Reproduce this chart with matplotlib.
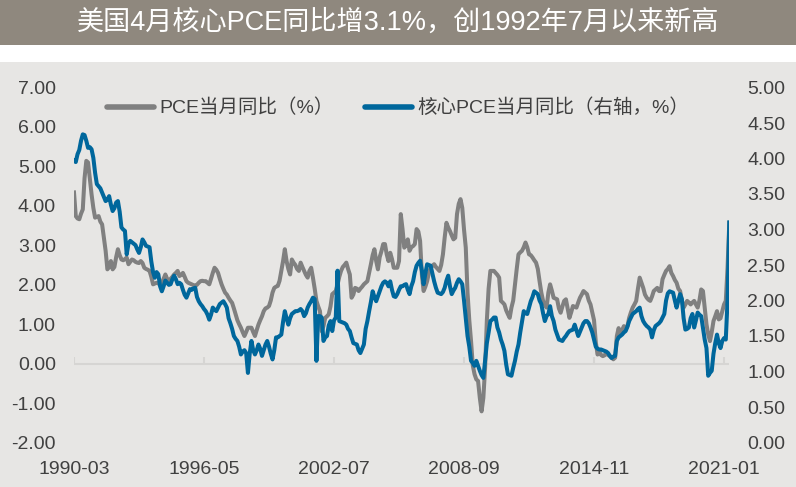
import matplotlib
matplotlib.use("Agg")
import matplotlib.pyplot as plt
from matplotlib.patches import Rectangle
import numpy as np

plt.rcParams['font.family'] = ['Liberation Sans', 'Noto Sans CJK SC', 'DejaVu Sans']

title = "美国4月核心PCE同比增3.1%，创1992年7月以来新高"
label_pce = "PCE当月同比（%）"
label_core = "核心PCE当月同比（右轴，%）"

# monthly, 1990-03 .. 2021-04
pce = [
    4.34, 3.74, 3.68, 3.66, 3.80, 3.91, 4.70, 5.14, 5.10, 4.70,
    4.29, 3.95, 3.70, 3.72, 3.74, 3.60, 3.53, 3.20, 2.86, 2.39, 2.45, 2.60,
    2.39, 2.45, 2.70, 2.90, 2.75, 2.64, 2.62, 2.65, 2.69, 2.52, 2.58, 2.64,
    2.62, 2.58, 2.56, 2.55, 2.60, 2.55, 2.43, 2.40, 2.38, 2.35, 2.20, 2.01,
    2.03, 2.05, 2.03, 2.01, 2.05, 2.15, 2.26, 2.15, 2.09, 2.15, 2.20, 2.26,
    2.30, 2.35, 2.22, 2.25, 2.30, 2.20, 2.09, 2.05, 2.03, 2.01, 1.99, 1.97,
    2.00, 2.05, 2.09, 2.10, 2.09, 2.09, 2.05, 2.01, 2.15, 2.30, 2.43, 2.38,
    2.30, 2.15, 2.01, 1.90, 1.80, 1.75, 1.67, 1.60, 1.54, 1.40, 1.25, 1.10,
    1.00, 0.91, 0.80, 0.70, 0.80, 0.91, 0.91, 0.91, 0.80, 0.70, 0.85, 0.99,
    1.10, 1.20, 1.33, 1.40, 1.42, 1.46, 1.60, 1.80, 1.92, 1.95, 1.97, 2.10,
    2.35, 2.60, 2.90, 2.60, 2.40, 2.26, 2.64, 2.56, 2.50, 2.40, 2.35, 2.56,
    2.45, 2.35, 2.25, 2.18, 2.35, 2.43, 2.18, 1.90, 1.59, 1.45, 1.33, 0.82,
    0.95, 1.16, 1.20, 1.25, 1.45, 1.76, 1.80, 1.84, 2.00, 2.20, 2.35, 2.45,
    2.50, 2.56, 2.40, 2.26, 1.67, 1.75, 1.92, 1.90, 1.84, 1.90, 1.95, 2.01,
    2.05, 2.09, 2.30, 2.52, 2.75, 2.90, 2.60, 2.39, 2.70, 2.85, 3.03, 3.03,
    2.77, 2.60, 2.81, 2.65, 2.43, 2.43, 2.43, 2.60, 3.79, 3.41, 2.94, 3.00,
    3.15, 2.86, 2.95, 2.98, 3.03, 3.41, 3.35, 3.11, 2.26, 1.84, 1.95, 2.09,
    2.30, 2.43, 2.48, 2.52, 2.45, 2.40, 2.35, 2.50, 2.77, 3.20, 3.57, 3.45,
    3.36, 3.25, 3.15, 3.19, 3.79, 4.05, 4.17, 3.95, 3.40, 2.94, 1.80, 1.10,
    0.57, -0.05, -0.27, -0.40, -0.44, -0.87, -1.21, -0.87, -0.11, 1.10, 1.90, 2.35,
    2.35, 2.35, 2.30, 2.25, 2.18, 1.59, 1.55, 1.50, 1.35, 1.25, 1.16, 1.42,
    1.60, 2.01, 2.40, 2.77, 2.82, 2.86, 2.95, 3.07, 2.95, 2.77, 2.75, 2.69,
    2.62, 2.56, 2.40, 2.09, 1.80, 1.59, 1.50, 1.42, 1.80, 2.01, 1.85, 1.67,
    1.65, 1.63, 1.40, 1.29, 1.45, 1.59, 1.63, 1.40, 1.16, 1.30, 1.46, 1.44,
    1.42, 1.55, 1.67, 1.75, 1.84, 1.80, 1.76, 1.60, 1.50, 1.30, 1.10, 0.55,
    0.23, 0.30, 0.22, 0.19, 0.21, 0.27, 0.22, 0.19, 0.15, 0.11, 0.15, 0.70,
    0.90, 0.74, 0.85, 0.95, 0.87, 0.95, 1.16, 1.30, 1.42, 1.50, 1.59, 1.90,
    2.18, 2.05, 1.92, 1.75, 1.67, 1.62, 1.59, 1.70, 1.84, 1.88, 1.92, 1.84,
    1.84, 2.14, 2.25, 2.35, 2.40, 2.47, 2.30, 2.22, 2.12, 2.05, 1.90, 1.84,
    1.60, 1.42, 1.50, 1.59, 1.55, 1.50, 1.55, 1.59, 1.50, 1.42, 1.60, 1.88,
    1.84, 1.42, 1.00, 0.74, 0.57, 0.80, 1.08, 1.20, 1.33, 1.12, 1.15, 1.33,
    1.50, 1.59, 2.43, 3.57,
]

core_pce = [
    3.97, 3.95, 4.06, 4.12, 4.25, 4.34, 4.33, 4.25, 4.15, 4.16,
    4.13, 4.01, 3.80, 3.64, 3.61, 3.58, 3.52, 3.46, 3.40, 3.42, 3.47, 3.35,
    3.26, 3.30, 3.38, 3.40, 3.25, 3.03, 3.00, 2.98, 2.65, 2.80, 2.84, 2.82,
    2.80, 2.78, 2.72, 2.67, 2.75, 2.86, 2.82, 2.77, 2.76, 2.75, 2.55, 2.40,
    2.32, 2.40, 2.37, 2.20, 2.13, 2.20, 2.28, 2.25, 2.22, 2.23, 2.30, 2.35,
    2.30, 2.23, 2.25, 2.23, 2.15, 2.08, 2.04, 2.10, 2.16, 2.15, 2.17, 2.18,
    2.05, 1.99, 1.95, 1.92, 1.88, 1.85, 1.80, 1.73, 1.80, 1.90, 1.87, 1.85,
    1.90, 1.95, 1.97, 1.99, 1.95, 1.90, 1.75, 1.68, 1.60, 1.50, 1.46, 1.43,
    1.35, 1.24, 1.28, 1.30, 1.26, 0.98, 1.25, 1.43, 1.30, 1.24, 1.30, 1.38,
    1.32, 1.22, 1.30, 1.38, 1.43, 1.35, 1.25, 1.17, 1.30, 1.48, 1.48, 1.50,
    1.52, 1.70, 1.85, 1.75, 1.66, 1.75, 1.81, 1.83, 1.85, 1.85, 1.86, 1.88,
    1.85, 1.78, 1.82, 1.90, 1.95, 1.99, 2.04, 2.02, 1.15, 1.78, 1.78, 1.76,
    1.43, 1.48, 1.50, 1.65, 1.71, 1.57, 1.72, 1.76, 2.42, 1.71, 1.70, 1.69,
    1.68, 1.66, 1.60, 1.57, 1.48, 1.40, 1.39, 1.38, 1.30, 1.26, 1.32, 1.38,
    1.60, 1.71, 1.85, 1.98, 2.13, 2.05, 1.99, 2.06, 2.13, 2.20, 2.25, 2.27,
    2.25, 2.20, 2.27, 2.15, 2.06, 2.05, 2.09, 2.15, 2.20, 2.20, 2.22, 2.23,
    2.15, 2.09, 2.20, 2.27, 2.40, 2.49, 2.53, 2.56, 2.42, 2.23, 2.38, 2.51,
    2.50, 2.49, 2.38, 2.27, 2.18, 2.11, 2.10, 2.09, 2.12, 2.18, 2.28, 2.35,
    2.20, 2.09, 2.14, 2.18, 2.25, 2.30, 2.27, 2.23, 2.00, 1.75, 1.50, 1.35,
    1.15, 1.12, 1.08, 1.15, 1.08, 1.01, 0.95, 0.91, 1.15, 1.40, 1.55, 1.71,
    1.73, 1.76, 1.76, 1.62, 1.55, 1.45, 1.38, 1.29, 1.10, 0.96, 0.95, 0.94,
    1.05, 1.15, 1.28, 1.38, 1.55, 1.70, 1.85, 1.82, 1.81, 1.90, 1.99, 2.05,
    2.13, 2.11, 2.09, 2.00, 1.95, 1.82, 1.71, 1.78, 1.81, 1.92, 1.78, 1.71,
    1.59, 1.52, 1.45, 1.44, 1.43, 1.47, 1.50, 1.54, 1.57, 1.58, 1.59, 1.66,
    1.58, 1.50, 1.56, 1.62, 1.68, 1.71, 1.71, 1.68, 1.62, 1.55, 1.45, 1.35,
    1.32, 1.31, 1.31, 1.30, 1.29, 1.28, 1.26, 1.22, 1.19, 1.21, 1.22, 1.43,
    1.48, 1.50, 1.52, 1.55, 1.57, 1.63, 1.71, 1.76, 1.81, 1.83, 1.85, 1.88,
    1.90, 1.78, 1.71, 1.67, 1.64, 1.62, 1.59, 1.48, 1.58, 1.64, 1.66, 1.68,
    1.71, 1.76, 1.81, 2.00, 2.10, 2.13, 2.12, 2.11, 2.00, 1.90, 2.00, 2.09,
    2.02, 1.75, 1.59, 1.60, 1.62, 1.75, 1.81, 1.62, 1.72, 1.83, 1.80, 1.78,
    1.62, 1.45, 1.33, 0.94, 0.98, 1.01, 1.25, 1.40, 1.52, 1.40, 1.33, 1.43,
    1.47, 1.45, 2.00, 3.10,
]

xtick_labels = ["1990-03", "1996-05", "2002-07", "2008-09", "2014-11", "2021-01"]
left_ticks = [-2, -1, 0, 1, 2, 3, 4, 5, 6, 7]
right_ticks = [0, 0.5, 1, 1.5, 2, 2.5, 3, 3.5, 4, 4.5, 5]

W, H = 796, 487
fig = plt.figure(figsize=(W / 100, H / 100), dpi=100)
fig.patch.set_facecolor("white")

# title bar and chart panel
fig.patches.append(Rectangle((0, 1 - 45 / H), 1, 45 / H, transform=fig.transFigure,
                             facecolor="#8F887E", edgecolor="none", zorder=-10))
fig.patches.append(Rectangle((0, 0), 1, 1 - 62 / H, transform=fig.transFigure,
                             facecolor="#E7E6E4", edgecolor="none", zorder=-10))
fig.text(0.5, 1 - 22.5 / H, title, color="white", fontsize=19.5,
         ha="center", va="center")

x0, x1 = 74, 729.3
ytop, ybot = 87.5, 442.5
ax = fig.add_axes([x0 / W, 1 - ybot / H, (x1 - x0) / W, (ybot - ytop) / H])
ax.set_facecolor("none")
ax2 = ax.twinx()
ax2.set_facecolor("none")

n = len(pce)
x = np.arange(n)
xc = np.arange(len(core_pce))

l1, = ax.plot(x, pce, color="#808080", lw=2.9, solid_joinstyle="round", label=label_pce)
l2, = ax2.plot(xc, core_pce, color="#00679C", lw=2.9, solid_joinstyle="round", label=label_core)

ax.set_xlim(0, n - 1)
ax.set_ylim(-2, 7)
ax2.set_ylim(0, 5)

for a in (ax, ax2):
    for s in a.spines.values():
        s.set_visible(False)

tick_pos = [i * 74 for i in range(len(xtick_labels))]
ax.set_xticks(tick_pos)
ax.set_xticklabels(xtick_labels)
ax.tick_params(axis="x", length=0, pad=13, labelsize=14, labelcolor="#404040")

# zero axis line with upward tick marks
ax.axhline(0, color="#D6D5D3", lw=1.5, zorder=1)
ax.vlines(tick_pos, 0, 0.17, color="#D6D5D3", lw=1.5, zorder=1)

ax.set_yticks(left_ticks)
ax.set_yticklabels([f"{v:.2f}" for v in left_ticks])
ax.tick_params(axis="y", length=0, pad=13, labelsize=14, labelcolor="#404040")
ax2.set_yticks(right_ticks)
ax2.set_yticklabels([f"{v:.2f}" for v in right_ticks])
ax2.tick_params(axis="y", length=0, pad=13, labelsize=14, labelcolor="#404040")

leg = fig.legend([l1, l2], [label_pce, label_core], ncol=2, frameon=False,
                 loc="center left", bbox_to_anchor=(107 / W, 1 - 108 / H),
                 bbox_transform=fig.transFigure, fontsize=14,
                 handlelength=2.4, handletextpad=0.3, columnspacing=1.6,
                 borderpad=0, borderaxespad=0)
for t in leg.get_texts():
    t.set_color("#404040")
for h in leg.legend_handles:
    h.set_linewidth(4)
    h.set_solid_capstyle("round")

fig.savefig("out.png", dpi=100)
